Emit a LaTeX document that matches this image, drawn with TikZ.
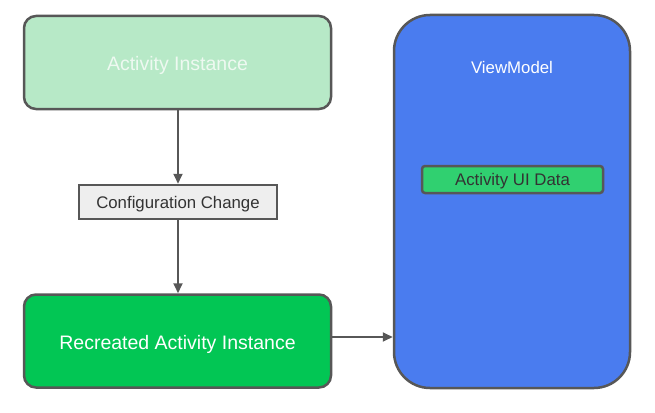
\documentclass[tikz,border=0pt]{standalone}
\usepackage{fontspec}
\setmainfont{Liberation Sans}
\usetikzlibrary{arrows.meta}
\definecolor{edge}{HTML}{575757}
\definecolor{lightgreen}{HTML}{B7E9C7}
\definecolor{lighttext}{HTML}{EEF9F1}
\definecolor{darkgreen}{HTML}{02C654}
\definecolor{vmblue}{HTML}{4A7CEF}
\definecolor{datagreen}{HTML}{30D070}
\definecolor{cfgfill}{HTML}{EEEEEE}
\definecolor{darktext}{HTML}{333333}
\tikzset{
  box/.style={draw=edge, line width=2.5pt, rounded corners=12pt, inner sep=0pt, align=center},
  bigtext/.style={font=\fontsize{19.5}{22}\selectfont, text height=16.5pt, text depth=0pt},
  smalltext/.style={font=\fontsize{16.8}{19}\selectfont, text height=12.5pt, text depth=0pt},
  conn/.style={draw=edge, line width=1.8pt, -{Triangle[length=10pt,width=9pt]}}
}
\begin{document}
\begin{tikzpicture}[x=1pt,y=-1pt]
\useasboundingbox (0,0) rectangle (655,412);
\node[box, fill=lightgreen, text=lighttext, bigtext, minimum width=307pt, minimum height=93pt] (ai) at (177.5,62.5) {Activity Instance};
\node[draw=edge, line width=2.5pt, fill=cfgfill, text=darktext, smalltext, inner sep=0pt, minimum width=198pt, minimum height=34pt] (cc) at (178,202) {Configuration Change};
\node[box, fill=darkgreen, text=white, bigtext, minimum width=307pt, minimum height=93pt] (rai) at (177.5,341) {Recreated Activity Instance};
\node[box, fill=vmblue, rounded corners=36pt, minimum width=236pt, minimum height=373pt] (vm) at (512,201.5) {};
\node[text=white, smalltext, inner sep=0pt, anchor=base] (vmt) at (512,73.5) {ViewModel};
\node[draw=edge, line width=2.5pt, rounded corners=3pt, fill=datagreen, text=darktext, smalltext, inner sep=0pt, minimum width=181pt, minimum height=27pt] (ui) at (512.5,179.5) {Activity UI Data};
\draw[conn] (ai.south -| cc.north) -- (cc.north);
\draw[conn] (cc.south) -- (cc.south |- rai.north);
\draw[conn] (rai.east |- 0,337) -- (vm.west |- 0,337);
\end{tikzpicture}
\end{document}
